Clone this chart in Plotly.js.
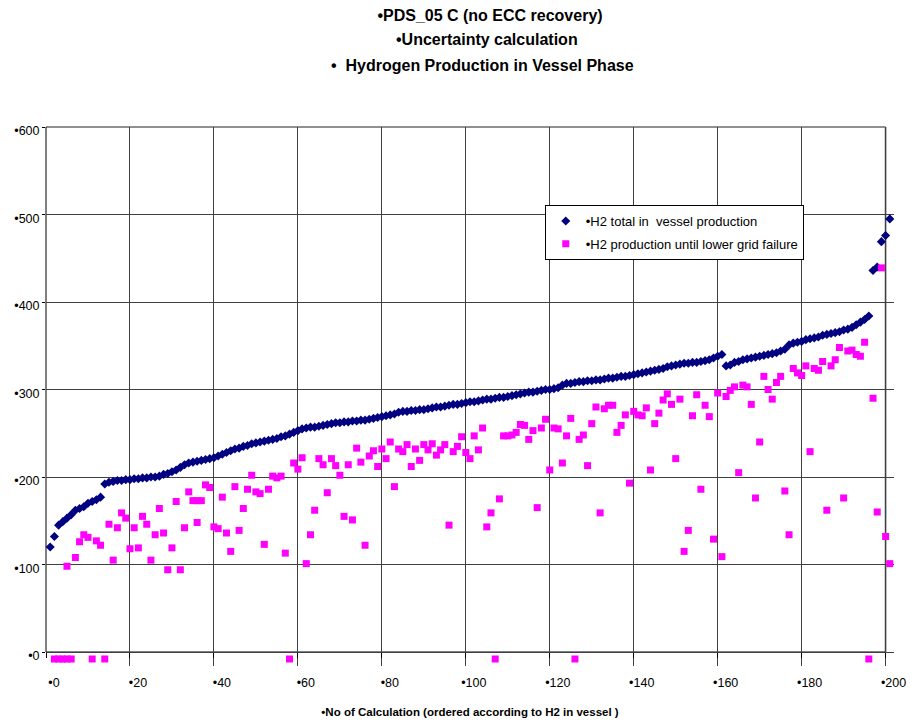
<!DOCTYPE html>
<html>
<head>
<meta charset="utf-8">
<script src="https://cdn.plot.ly/plotly-3.0.1.min.js"></script>
<style>html,body{margin:0;padding:0;background:#fff;}#chart{width:916px;height:720px;}</style>
</head>
<body>
<div id="chart"></div>
<script>
// Series 1: H2 total in vessel production (calculation no. 1..201, ordered)
const h2Total = [
  120,132,145,149,153,157,162,164,166,170,
  172,174,177,192,194,195,196,196,197,197,
  198,198,199,199,200,200,201,203,204,206,
  208,211,214,216,217,218,219,220,221,222,
  224,226,228,230,232,233,235,236,238,239,
  240,241,242,243,244,246,247,249,251,253,
  255,256,257,257,258,259,260,261,262,262,
  263,263,264,264,265,265,266,267,268,269,
  270,271,272,274,275,275,276,276,277,277,
  278,279,280,280,281,282,283,283,284,285,
  286,286,287,288,289,289,290,291,291,292,
  293,294,295,296,297,297,298,299,300,300,
  301,302,305,307,307,308,309,309,310,310,
  311,311,312,313,313,314,315,315,316,317,
  318,319,320,321,322,323,324,326,327,328,
  329,330,330,331,331,332,333,334,336,338,
  340,327,328,331,332,334,335,336,337,338,
  339,340,341,342,344,346,351,353,354,355,
  357,358,359,360,362,363,364,365,366,368,
  369,371,374,377,380,384,436,440,469,476,
  495
];

// Series 2: H2 production until lower grid failure (calculation no., value)
const gridX = [
  2,3,4,5,6,
  5,7,8,9,10,11,12,13,14,15,16,17,18,19,20,
  21,22,23,24,25,26,27,28,29,30,
  31,32,33,34,35,36,37,36,38,39,40,
  41,42,43,44,45,46,47,48,49,50,
  51,52,53,54,55,56,57,58,59,60,
  61,62,63,64,65,66,67,68,69,70,
  71,72,73,74,75,76,77,78,79,80,
  81,82,83,84,85,86,87,88,89,90,
  91,92,93,94,95,96,97,98,99,100,
  101,102,103,104,105,106,107,108,109,110,
  111,112,113,114,115,116,117,118,119,120,
  121,122,123,124,125,126,127,128,129,130,
  131,132,133,134,135,136,137,138,139,140,
  141,142,143,144,145,146,147,148,149,150,
  151,152,153,154,155,156,157,158,159,160,
  161,162,163,164,165,166,167,168,169,170,
  171,172,173,174,175,176,177,178,179,180,
  181,182,183,184,185,186,187,188,189,190,
  191,192,193,194,195,196,197,198,199,200,201
];
const gridY = [
  -8,-8,-8,-8,-8,
  98,108,126,134,131,-8,127,122,-8,146,105,142,159,153,118,
  142,119,155,146,105,134,164,136,94,119,
  172,94,142,183,173,173,173,148,191,188,143,
  141,177,136,115,189,139,164,186,202,183,
  181,123,186,201,199,201,113,-8,216,209,
  222,101,134,162,221,214,182,221,213,202,
  155,214,151,233,217,122,224,230,212,232,
  221,240,189,232,229,237,212,232,219,237,
  231,238,225,231,237,145,229,235,246,228,
  221,247,231,256,143,159,-8,175,247,247,
  248,251,260,259,243,253,165,256,266,208,
  256,255,216,247,267,-8,243,248,213,261,
  280,159,278,282,282,251,259,271,193,275,
  271,270,279,208,261,273,288,295,283,221,
  289,115,139,270,294,186,282,269,129,296,
  109,292,299,303,205,305,303,283,176,240,
  315,300,289,308,315,184,134,324,319,316,
  327,229,324,322,332,162,327,334,348,176,
  344,345,340,338,354,-8,290,160,439,132,101
];

const xTickVals = [0,20,40,60,80,100,120,140,160,180,200];
const xTickText = ['•0','•20','•40','•60','•80','•100','•120','•140','•160','•180','•200'];
const yTickVals = [0,100,200,300,400,500,600];
const yTickText = ['•0','•100','•200','•300','•400','•500','•600'];

const FONT = 'Liberation Sans, Arial, sans-serif';

// axis extents (frame of the chart) and the slightly larger plotting window
const X_MAX = 200, X_WIN = 202;
const Y_MIN_WIN = -16, Y_MAX = 600;
const fx = X_MAX / X_WIN;                          // paper x of the right frame
const fy0 = (0 - Y_MIN_WIN) / (Y_MAX - Y_MIN_WIN); // paper y of value 0

const traces = [
  {
    type: 'scatter', mode: 'markers',
    name: '•H2 total in \u00A0vessel production',
    x0: 1, dx: 1, y: h2Total,
    marker: {symbol: 'diamond', size: 7, color: '#000080'},
    cliponaxis: false, legendgroup: 'a'
  },
  {
    type: 'scatter', mode: 'markers',
    name: '•H2 production until lower grid failure',
    x: gridX, y: gridY,
    marker: {symbol: 'square', size: 7, color: '#FF00FF'},
    cliponaxis: false, legendgroup: 'b'
  }
];

const layout = {
  width: 916, height: 720,
  paper_bgcolor: '#fff', plot_bgcolor: '#fff',
  font: {family: FONT, color: '#000', size: 12.5},
  margin: {l: 46, r: 21.6, t: 127, b: 54},
  showlegend: true,
  title: {
    text: '<b>•PDS_05 C (no ECC recovery)</b>',
    font: {family: FONT, size: 16, color: '#000'},
    xref: 'container', yref: 'container',
    x: 490/916, y: 1 - 15/720, xanchor: 'center', yanchor: 'middle'
  },
  annotations: [
    {text: '<b>•Uncertainty calculation</b>', xref: 'paper', yref: 'paper',
     x: (487-46)/848.4, y: (666-40)/539, xanchor: 'center', yanchor: 'middle',
     showarrow: false, font: {family: FONT, size: 16, color: '#000'}},
    {text: '<b>•\u00A0 Hydrogen Production in Vessel Phase</b>', xref: 'paper', yref: 'paper',
     x: (483-46)/848.4, y: (666-65)/539, xanchor: 'center', yanchor: 'middle',
     showarrow: false, font: {family: FONT, size: 16, color: '#000'}}
  ],
  xaxis: {
    range: [0, X_WIN], tickvals: xTickVals, ticktext: xTickText,
    anchor: 'free', position: fy0,
    ticks: 'outside', ticklen: 5, tickcolor: '#000', tickwidth: 1,
    showgrid: true, gridcolor: '#404040', gridwidth: 1,
    showline: false, zeroline: false,
    ticklabelshift: 8, ticklabelstandoff: 14,
    tickfont: {family: FONT, size: 12.5, color: '#000'},
    title: {text: '<b>•No of Calculation (ordered according to H2 in vessel )</b>',
            font: {family: FONT, size: 11.5, color: '#000'}, standoff: 18}
  },
  yaxis: {
    range: [Y_MIN_WIN, Y_MAX], tickvals: yTickVals, ticktext: yTickText,
    ticks: 'outside', ticklen: 3, tickcolor: '#000', tickwidth: 1,
    showgrid: true, gridcolor: '#404040', gridwidth: 1,
    showline: false, zeroline: false, ticklabelshift: 4,
    tickfont: {family: FONT, size: 12.5, color: '#000'}
  },
  legend: {
    x: (545-46)/848.4, y: (666-205)/539, xanchor: 'left', yanchor: 'top',
    bgcolor: '#fff', bordercolor: '#000', borderwidth: 1,
    font: {family: FONT, size: 13, color: '#000'},
    tracegroupgap: 3, traceorder: 'grouped'
  },
  shapes: [
    // hide grid below the value axis and right of the frame
    {type: 'rect', xref: 'paper', yref: 'paper', x0: 0, x1: 1, y0: 0, y1: fy0,
     fillcolor: '#fff', line: {width: 0}, layer: 'between'},
    {type: 'rect', xref: 'paper', yref: 'paper', x0: fx, x1: 1, y0: 0, y1: 1,
     fillcolor: '#fff', line: {width: 0}, layer: 'between'},
    // frame
    {type: 'line', xref: 'paper', yref: 'paper', x0: 0, x1: fx, y0: 1, y1: 1,
     line: {color: '#909090', width: 2}, layer: 'between'},
    {type: 'line', xref: 'paper', yref: 'paper', x0: fx, x1: fx, y0: fy0, y1: 1,
     line: {color: '#909090', width: 2}, layer: 'between'},
    {type: 'line', xref: 'paper', yref: 'paper', x0: 0, x1: 0, y0: fy0, y1: 1,
     line: {color: '#000', width: 1}, layer: 'between'},
    {type: 'line', xref: 'paper', yref: 'paper', x0: 0, x1: fx, y0: fy0, y1: fy0,
     line: {color: '#000', width: 1}, layer: 'between'}
  ]
};

Plotly.newPlot('chart', traces, layout, {displayModeBar: false, staticPlot: true});
</script>
</body>
</html>
